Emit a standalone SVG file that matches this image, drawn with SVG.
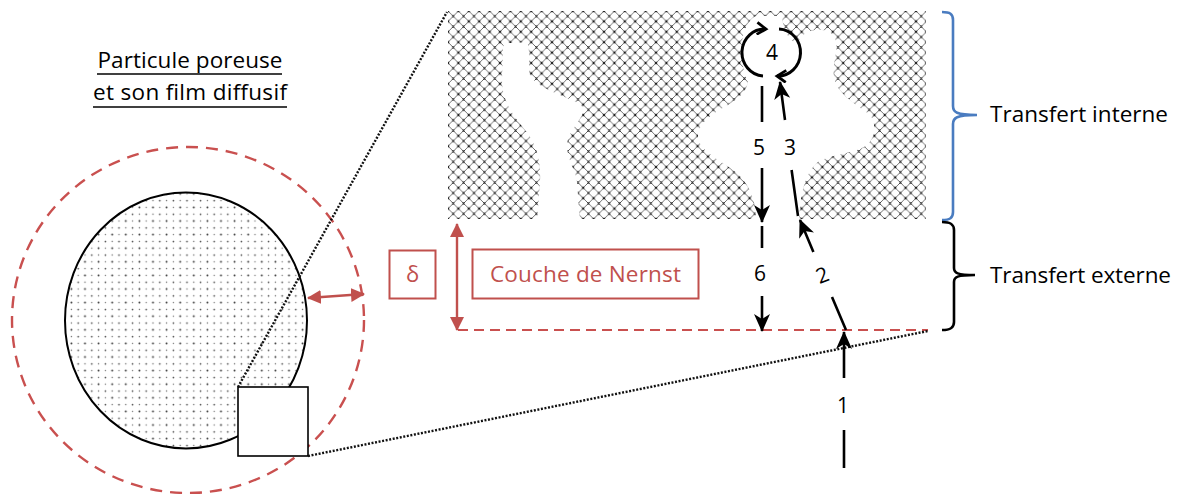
<svg xmlns="http://www.w3.org/2000/svg" width="1182" height="494" viewBox="0 0 1182 494">
  <defs>
    <style>
      .txt { font-family: "Open Sans", "Liberation Sans", sans-serif; fill: #000; }
      .lbl { font-size: 22.5px; }
      .num { font-size: 21px; text-anchor: middle; }
      .redtxt { fill: #c0504d; }
      .flow { fill: none; stroke: #000; stroke-width: 2.6; marker-end: url(#head); }
      .spin { fill: none; stroke: #000; stroke-width: 3; marker-end: url(#open); }
      .dotted { fill: none; stroke: #111; stroke-width: 2.4; stroke-dasharray: 2 1.6; }
      .redbox { fill: #fff; stroke: #c0504d; stroke-width: 2; }
      .redarrow { fill: none; stroke: #c0504d; stroke-width: 2.4; marker-start: url(#redhead); marker-end: url(#redhead); }
      .pore { fill: #fff; stroke: none; }
    </style>
    <!-- solid matrix: diamond lattice with marked nodes -->
    <pattern id="hatch" width="10.4" height="10.4" patternUnits="userSpaceOnUse" x="448" y="11">
      <path d="M0,0 L10.4,10.4 M10.4,0 L0,10.4" stroke="#4d4d4d" stroke-width="0.8"/>
      <path d="M-1,-1 L1,1 M1,-1 L-1,1 M4.2,4.2 L6.2,6.2 M6.2,4.2 L4.2,6.2 M9.4,9.4 L11.4,11.4 M11.4,9.4 L9.4,11.4 M9.4,1 L11.4,-1 M-1,11.4 L1,9.4" stroke="#1a1a1a" stroke-width="1.1"/>
    </pattern>
    <!-- stippled particle body -->
    <pattern id="dots" width="13.6" height="13.6" patternUnits="userSpaceOnUse">
      <circle cx="3.4" cy="3.4" r="0.95" fill="#333"/>
      <circle cx="10.2" cy="3.4" r="0.7" fill="#777"/>
      <circle cx="3.4" cy="10.2" r="0.7" fill="#666"/>
      <circle cx="10.2" cy="10.2" r="0.85" fill="#444"/>
    </pattern>
    <marker id="head" viewBox="0 0 18 18" markerUnits="userSpaceOnUse" markerWidth="18" markerHeight="18" refX="17" refY="9" orient="auto">
      <path d="M0,1 L18,9 L0,17 L5,9 Z" fill="#000"/>
    </marker>
    <marker id="open" viewBox="0 0 14 14" markerUnits="userSpaceOnUse" markerWidth="14" markerHeight="14" refX="11" refY="7" orient="auto">
      <path d="M2,1 L11,7 L2,13" fill="none" stroke="#000" stroke-width="2.8"/>
    </marker>
    <marker id="redhead" viewBox="0 0 14 14" markerUnits="userSpaceOnUse" markerWidth="14" markerHeight="14" refX="13" refY="7" orient="auto-start-reverse">
      <path d="M0,0 L14,7 L0,14 Z" fill="#c0504d"/>
    </marker>
  </defs>

  <rect width="1182" height="494" fill="#fff"/>

  <!-- title -->
  <g id="title">
    <text class="txt lbl" x="190" y="68" text-anchor="middle" textLength="185">Particule poreuse</text>
    <line x1="97" y1="74" x2="282" y2="74" stroke="#000" stroke-width="1.6"/>
    <text class="txt lbl" x="190" y="100" text-anchor="middle" textLength="194">et son film diffusif</text>
    <line x1="93" y1="107" x2="287" y2="107" stroke="#000" stroke-width="1.6"/>
  </g>

  <!-- particle with its diffusion film -->
  <g id="particle">
    <ellipse cx="188" cy="320" rx="176" ry="173" fill="none" stroke="#c9504f" stroke-width="2.4" stroke-dasharray="12 8"/>
    <ellipse cx="186" cy="320.5" rx="121" ry="128" fill="url(#dots)" stroke="#000" stroke-width="2"/>
  </g>

  <!-- pore structure (magnified) -->
  <g id="pore-structure">
    <rect x="448" y="11" width="478" height="208" fill="url(#hatch)"/>
    <path class="pore" d="M503,48 C503,42 510,43 515,43 L526,42 C530,44 529,60 529,72 C531,80 540,86 553,92 C566,98 580,102 583,108 C585,118 568,130 567,145 C567,160 576,170 577,182 L580,222 L537,222 L540,182 C541,160 537,145 525,130 C512,114 502,100 502,80 Z"/>
    <path class="pore" d="M756,16 L782,16 C783,30 788,40 798,44 C800,34 810,29 822,30 C834,31 838,40 836,52 C834,64 832,75 836,84 C842,96 858,106 869,114 C877,122 876,138 866,146 C852,154 832,154 818,162 C806,172 800,192 799,222 L756,222 C756,200 750,186 738,174 C724,162 700,152 698,138 C697,124 712,114 726,106 C740,98 748,90 748,80 C741,72 740,44 744,32 C747,24 751,18 756,16 Z"/>
  </g>

  <!-- magnified zone on the particle -->
  <g id="zoom-box">
    <rect x="238" y="387" width="70" height="69" fill="#fff" stroke="#000" stroke-width="1.6"/>
  </g>

  <!-- boundary layer -->
  <g id="nernst-layer">
    <path d="M458,330 H928" fill="none" stroke="#c9504f" stroke-width="2.2" stroke-dasharray="10 6"/>
  </g>

  <g id="delta-label">
    <rect class="redbox" x="389.5" y="250.5" width="46" height="48"/>
    <text class="txt redtxt" x="412.5" y="282" font-size="22" text-anchor="middle">δ</text>
  </g>

  <g id="nernst-label">
    <rect class="redbox" x="472.5" y="249.5" width="226" height="49"/>
    <text class="txt lbl redtxt" x="585.5" y="282" text-anchor="middle" textLength="191">Couche de Nernst</text>
  </g>

  <g id="internal-transfer">
    <path d="M942,12 C950,12 953,14 953,20 L953,106 C953,112 956,115 977,115 C956,115 953,118 953,124 L953,212 C953,218 950,220 942,220" fill="none" stroke="#4a7cc0" stroke-width="2.6"/>
    <text class="txt lbl" x="990" y="122" textLength="178">Transfert interne</text>
  </g>

  <g id="external-transfer">
    <path d="M942,222 C950,222 954,224 954,230 L954,268 C954,273 957,275 975,275 C957,275 954,277 954,282 L954,322 C954,328 950,330 942,330" fill="none" stroke="#000" stroke-width="2.6"/>
    <text class="txt lbl" x="990" y="283" textLength="181">Transfert externe</text>
  </g>

  <!-- connectors -->
  <g id="connectors">
    <path class="dotted" d="M238,387 L447,12"/>
    <path class="dotted" d="M308,456 L928,331"/>
    <path class="redarrow" d="M457,224 V330"/>
    <path class="redarrow" d="M308,298 L364,294"/>
    <!-- 1: bulk to film -->
    <path class="flow" d="M844,468 V430 M844,378 V332"/>
    <!-- 2: across the film -->
    <path class="flow" d="M846,330 L832,297 M813.4,252 L800,220"/>
    <!-- 3: into the pore -->
    <path class="flow" stroke-width="2.2" d="M798,216 L791.6,170 M785,120 L780,82"/>
    <!-- 4: surface reaction -->
    <path class="spin" d="M763,76 A22,23 0 0 1 766,29"/>
    <path class="spin" d="M779,29 A22,23 0 0 1 777,76"/>
    <!-- 5: back out of the pore -->
    <path class="flow" d="M762,86 V122 M762,168 V222"/>
    <!-- 6: back through the film -->
    <path class="flow" d="M762,226 V248 M762,296 V331"/>
  </g>

  <g id="step-labels">
    <text class="txt num" x="843" y="413">1</text>
    <text class="txt num" transform="translate(825,282) rotate(-22)" x="0" y="0">2</text>
    <text class="txt num" x="790" y="155">3</text>
    <text class="txt num" x="772" y="60">4</text>
    <text class="txt num" x="759" y="155">5</text>
    <text class="txt num" x="760" y="281">6</text>
  </g>
</svg>
